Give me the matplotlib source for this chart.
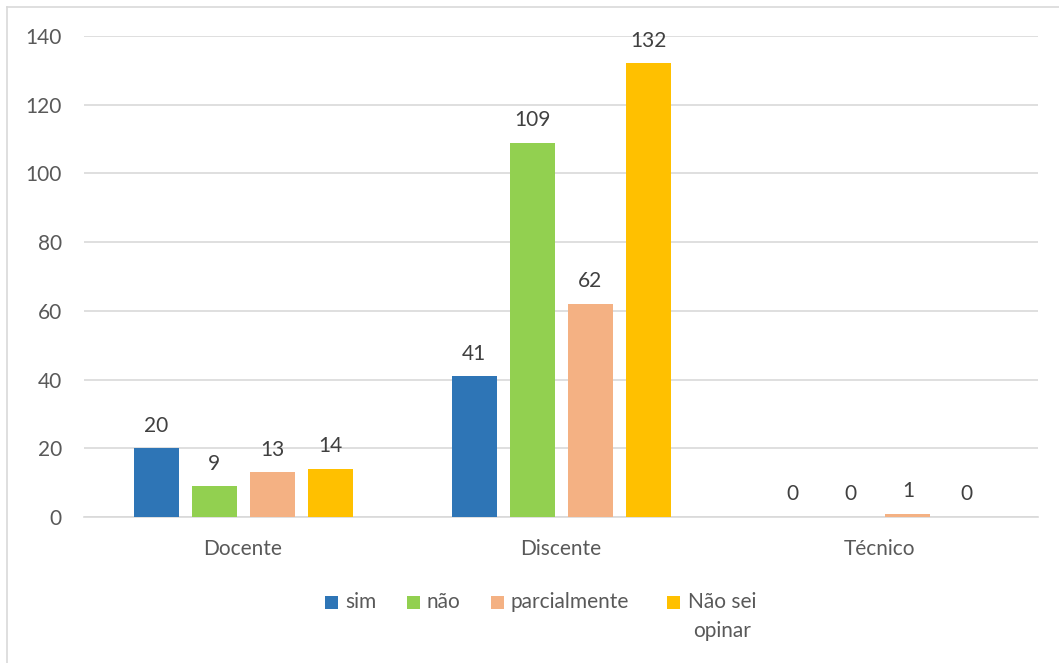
import numpy as np
import matplotlib
matplotlib.use("Agg")
import matplotlib.pyplot as plt
from matplotlib.patches import Rectangle
from matplotlib.lines import Line2D

categories = ["Docente", "Discente", "Técnico"]
series_names = ["sim", "não", "parcialmente", "Não sei\nopinar"]
sim = [20, 41, 0]
nao = [9, 109, 0]
parcialmente = [13, 62, 1]
nao_sei = [14, 132, 0]
series_values = [sim, nao, parcialmente, nao_sei]
colors = ["#2E75B6", "#92D050", "#F4B183", "#FFC000"]
yticks = [0, 20, 40, 60, 80, 100, 120, 140]

plt.rcParams['font.family'] = ['Lato', 'DejaVu Sans']
txt = "#595959"
fs = 15

W, H = 1059, 663
left_px, right_px = 84, 1038
fig = plt.figure(figsize=(W / 100, H / 100), dpi=100)
ax = fig.add_axes([left_px / W, 1 - 517 / H, (right_px - left_px) / W, (517 - 36) / H])

catw = (right_px - left_px) / 3
x = np.arange(len(categories))
bw = 45 / catw
step = 58 / catw
for i, (vals, col) in enumerate(zip(series_values, colors)):
    pos = x + (i - 1.5) * step
    ax.bar(pos, vals, width=bw, color=col, zorder=3)
    for p, v in zip(pos, vals):
        ax.annotate(str(v), (p, v), xytext=(0, 9), textcoords="offset points",
                    ha="center", va="bottom", fontsize=fs, color="#404040")

ax.set_xlim(-0.5, 2.5)
ax.set_ylim(0, 140)
ax.set_yticks(yticks)
ax.set_xticks(x)
ax.set_xticklabels(categories)
ax.tick_params(axis="both", length=0, labelsize=fs, labelcolor=txt)
ax.tick_params(axis="x", pad=16)
ax.tick_params(axis="y", pad=16)
ax.yaxis.grid(True, color="#D9D9D9", lw=1.2, zorder=0)
for s in ["top", "right", "left"]:
    ax.spines[s].set_visible(False)
ax.spines["bottom"].set_color("#D9D9D9")
ax.spines["bottom"].set_linewidth(1.2)

# outer border
fig.add_artist(Line2D([7 / W, 7 / W], [0, 1 - 7 / H], transform=fig.transFigure, color="#D9D9D9", lw=1.2))
fig.add_artist(Line2D([7 / W, 1], [1 - 7 / H, 1 - 7 / H], transform=fig.transFigure, color="#D9D9D9", lw=1.2))

# legend
sq_x = [325, 407, 491, 667]
for sx, name, col in zip(sq_x, series_names, colors):
    fig.add_artist(Rectangle((sx / W, 1 - 609 / H), 13 / W, 13 / H, transform=fig.transFigure,
                             facecolor=col, edgecolor="none"))
    if "\n" in name:
        fig.text(722 / W, 1 - 592 / H, name, ha="center", va="top",
                 multialignment="center", fontsize=fs, color=txt, linespacing=1.55)
    else:
        fig.text((sx + 20) / W, 1 - 602.5 / H, name, ha="left", va="center", fontsize=fs, color=txt)

fig.savefig("out.png", dpi=100, facecolor="white")
